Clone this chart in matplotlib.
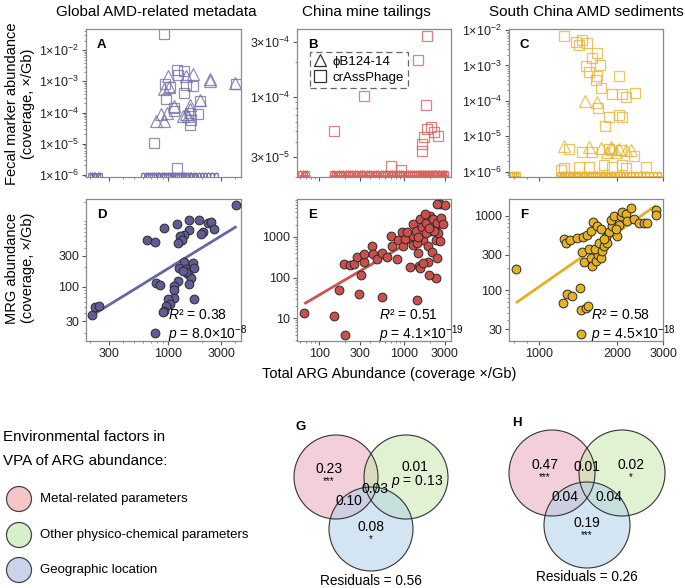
import numpy as np
import matplotlib
matplotlib.use("Agg")
import matplotlib.pyplot as plt
from matplotlib.ticker import LogLocator, NullFormatter, FixedLocator, FixedFormatter
from matplotlib.lines import Line2D
from matplotlib.patches import Circle

plt.rcParams['font.family'] = ['Liberation Sans', 'DejaVu Sans']
plt.rcParams['mathtext.fontset'] = 'custom'
plt.rcParams['mathtext.rm'] = 'Liberation Sans'
plt.rcParams['mathtext.it'] = 'Liberation Sans:italic'
plt.rcParams['mathtext.bf'] = 'Liberation Sans:bold'

# ---------------- data ----------------
col_titles = ["Global AMD-related metadata", "China mine tailings", "South China AMD sediments"]

# A: global metadata, fecal markers vs total ARG
A_sq_x = [927, 1205, 1400, 1220, 940, 1050, 960, 1385, 1450, 1670, 1140, 1140, 1560, 1850,
          1560, 1610, 1950, 4050, 748, 1205]
A_sq_y = [3.3e-2, 2.4e-3, 2.2e-3, 1.6e-3, 8e-4, 6.7e-4, 2.8e-4, 4.3e-4, 7.4e-4, 7e-4,
          1.4e-4, 1.1e-4, 1e-4, 9e-5, 4e-5, 5.9e-5, 2.3e-4, 8e-4, 1.07e-5, 1.7e-6]
A_tri_x = [780, 927, 865, 980, 927, 995, 1027, 1125, 1450, 1670, 1590, 1560, 1500, 1940,
           2400, 2400, 3950, 1450, 1355]
A_tri_y = [5.2e-5, 5.2e-5, 8.7e-5, 1e-4, 5.5e-4, 1.5e-3, 6.7e-4, 1.6e-4, 1.5e-3, 1.7e-3,
           1.7e-4, 1.25e-4, 7.6e-5, 2.6e-4, 1.2e-3, 1e-3, 8.6e-4, 9e-5, 7.6e-5]
A_zero_x = [200, 208, 216, 224, 236, 248, 600, 630, 660, 690, 720, 750, 780, 810, 840, 880,
            920, 960, 1000, 1040, 1080, 1120, 1160, 1200, 1250, 1300, 1350, 1400, 1450, 1500,
            1560, 1620, 1700, 1800, 1900, 2000, 2150, 2300, 2500, 2700]
A_zero_y = 1e-6

# B: China mine tailings
B_sq_x = [1832, 1459, 337, 150, 1783, 2040, 1862, 2230, 2506, 1703, 1600, 1612, 693, 914]
B_sq_y = [3.38e-4, 2.08e-4, 1.01e-4, 5.0e-5, 8.4e-5, 5.5e-5, 5.2e-5, 4.95e-5, 4.6e-5,
          4.5e-5, 3.9e-5, 3.4e-5, 2.5e-5, 2.3e-5]
B_zero_x = [60, 64, 68, 72, 140, 150, 160, 170, 180, 192, 205, 218, 232, 246, 262, 280, 298,
            318, 340, 362, 385, 410, 437, 465, 495, 527, 560, 596, 634, 675, 718, 764, 812,
            864, 918, 976, 1038, 1100, 1170, 1240, 1310, 1380, 1450, 1520, 1590, 1660, 1730,
            1800, 1880, 1960, 2040, 2120, 2200, 2290, 2380, 2480, 2580, 2700, 2820, 2950, 3100]
B_zero_y = 2.15e-5

# C: South China AMD sediments
C_sq_x = [1248, 1383, 1425, 1468, 1534, 1676, 1604, 1711, 1512, 1556, 1676, 1652, 1727, 2031,
          1914, 2093, 2155, 2339, 1690, 1858, 2031, 2080, 1795, 1304, 1468, 1604, 1858, 2060,
          2318, 1248, 1425, 1556, 1778, 1914, 2093, 2155, 2570, 1212]
C_sq_y = [6.8e-3, 4.7e-3, 3.8e-3, 5.2e-3, 4.4e-3, 2.2e-3, 1.58e-3, 1.03e-3, 9.6e-4, 6.6e-4,
          5e-4, 3.9e-4, 2.25e-4, 5e-4, 1.6e-4, 1.6e-4, 1.25e-4, 1.7e-4, 6.4e-5, 3.4e-5, 4e-5,
          3.6e-5, 1.95e-5, 4.3e-6, 3.5e-6, 3.6e-6, 4.3e-6, 4.1e-6, 2.76e-6, 1.3e-6, 1.37e-6,
          1.37e-6, 1.5e-6, 1.37e-6, 1.5e-6, 1.25e-6, 1.37e-6, 1.15e-6]
C_tri_x = [1503, 1667, 1248, 1556, 1727, 1888, 1914, 2031, 2155, 2253, 1972, 1832]
C_tri_y = [1e-4, 9.5e-5, 5.2e-6, 5e-6, 4.7e-6, 5e-6, 4.3e-6, 4.3e-6, 4e-6, 4e-6, 3.6e-6, 3.6e-6]
C_zero_x = [785, 800, 815, 832, 1195, 1220, 1250, 1280, 1310, 1340, 1370, 1400, 1430, 1460,
            1490, 1520, 1550, 1580, 1610, 1640, 1670, 1700, 1740, 1780, 1820, 1860, 1900,
            1950, 2000, 2050, 2100, 2160, 2220, 2290, 2360, 2440, 2520, 2610, 2700, 2800, 2890]
C_zero_y = 8.5e-7

# D: MRG vs total ARG, global
D_x = [4050, 211, 224, 243, 643, 764, 927, 1205, 1556, 1914, 2280, 2440, 2580, 2050, 1955,
       1556, 1385, 1290, 1335, 1220, 785, 853, 1385, 1265, 1450, 1668, 1700, 1500, 1610, 1556,
       1450, 1355, 1220, 1140, 1125, 1140, 995, 1050, 960, 927, 895, 1725, 764]
D_y = [1780, 37, 50, 52, 525, 488, 795, 910, 1035, 1065, 944, 980, 768, 680, 650, 740, 630,
       590, 525, 470, 117, 107, 238, 195, 185, 230, 195, 156, 139, 110, 170, 175, 123, 104, 90,
       69, 66, 55, 51, 43, 41, 66, 20]
D_fit = (1.05, -0.87)          # slope, intercept in log10-log10 space
D_fit_range = (211, 4100)
D_stats = ("0.38", "8.0", "-8")

# E: MRG vs total ARG, China mine tailings
E_x = [67, 151, 203, 171, 297, 552, 1397, 308, 198, 231, 260, 281, 340, 337, 415, 434, 475,
       548, 621, 711, 698, 828, 851, 933, 973, 1019, 1167, 1253, 1275, 1372, 1459, 1475, 1528,
       1599, 1671, 1797, 1911, 1880, 1995, 2055, 2094, 2188, 2290, 2355, 2400, 2506, 2624,
       2672, 2820, 2400, 2355, 1963, 2624, 3000, 2421, 1528, 1671, 1275, 1081, 1800, 1400,
       1460, 2230, 1750, 1963]
E_y = [13.6, 11.5, 3.9, 51, 39, 33, 28.6, 115, 218, 204, 217, 330, 245, 382, 590, 377, 288,
       399, 330, 590, 1035, 283, 824, 1330, 605, 890, 178, 1035, 2030, 1380, 414, 195, 2700,
       1770, 857, 2230, 590, 243, 3260, 1380, 437, 2700, 1670, 857, 2230, 1260, 775, 2960,
       2030, 300, 95.6, 115, 6350, 6000, 6350, 170, 225, 643, 1330, 1240, 700, 1000, 1400,
       3580, 1670]
E_fit = (1.226, -0.878)
E_fit_range = (67, 2500)
E_stats = ("0.51", "4.1", "-19")

# F: MRG vs total ARG, South China AMD sediments
F_x = [814, 1230, 1275, 1343, 1438, 1443, 1512, 1540, 1455, 1248, 1267, 1313, 1396, 1480,
       1534, 1614, 1581, 1676, 1727, 1468, 1490, 1556, 1581, 1604, 1652, 1690, 1641, 1701,
       1727, 1751, 1778, 1803, 1830, 1858, 1913, 1888, 1943, 2000, 2031, 2060, 2093, 2155,
       2187, 2253, 2318, 2425, 2535, 2612, 2811, 2820, 1778, 1972]
F_y = [196, 67, 90, 84, 107, 55, 58, 62, 26.4, 486, 437, 475, 497, 513, 550, 831, 630, 720,
       662, 328, 240, 357, 276, 212, 248, 295, 357, 437, 276, 340, 394, 513, 437, 598, 720,
       883, 1000, 537, 750, 1000, 1132, 1054, 857, 1256, 920, 813, 813, 789, 1204, 1021, 490,
       662]
F_fit = (2.42, -5.21)
F_fit_range = (814, 2825)
F_stats = ("0.58", "4.5", "-18")

# VPA (variance partitioning) values
venn_G = {"metal": "0.23", "metal_sig": "***", "other": "0.01", "other_sig": "$p$ = 0.13",
          "geo": "0.08", "geo_sig": "*", "mo": "", "mg": "0.10", "og": "", "all": "0.03",
          "resid": "0.56"}
venn_H = {"metal": "0.47", "metal_sig": "***", "other": "0.02", "other_sig": "*",
          "geo": "0.19", "geo_sig": "***", "mo": "0.01", "mg": "0.04", "og": "0.04", "all": "",
          "resid": "0.26"}
factor_names = ["Metal-related parameters", "Other physico-chemical parameters",
                "Geographic location"]
factor_colors = ["#f4c6c8", "#d8efcb", "#c9d3ea"]

# ---------------- styling ----------------
top_colors = ["#7673a8", "#d9625e", "#e6b43a"]
fill_colors = ["#5f5c96", "#c9504b", "#e5b225"]
line_colors = ["#6866a2", "#cf524e", "#e5b020"]
SPINE = "#8a8a8a"

W, H = 685, 588
fig = plt.figure(figsize=(W / 100, H / 100), dpi=100)


def box(x0, y0, x1, y1):
    return [x0 / W, 1 - y1 / H, (x1 - x0) / W, (y1 - y0) / H]


cols_px = [(86, 241), (297, 451), (509, 663)]
title_cx = [156, 366, 586]
top_px = (29, 177)
bot_px = (199, 341)

xlims = [(185, 4500), (55, 3530), (765, 3000)]
xticks = [[300, 1000, 3000], [100, 300, 1000, 3000], [1000, 2000, 3000]]
ylims_top = [(8.5e-7, 4.8e-2), (2.0e-5, 3.9e-4), (7.1e-7, 1.07e-2)]
yticks_top = [[1e-6, 1e-5, 1e-4, 1e-3, 1e-2], [3e-5, 1e-4, 3e-4], [1e-6, 1e-5, 1e-4, 1e-3, 1e-2]]
ylabels_top = [["1×10$^{-6}$", "1×10$^{-5}$", "1×10$^{-4}$", "1×10$^{-3}$", "1×10$^{-2}$"],
               ["3×10$^{-5}$", "1×10$^{-4}$", "3×10$^{-4}$"],
               ["1×10$^{-6}$", "1×10$^{-5}$", "1×10$^{-4}$", "1×10$^{-3}$", "1×10$^{-2}$"]]
ylims_bot = [(15, 2200), (2.8, 8500), (21, 1680)]
yticks_bot = [[30, 100, 300], [10, 100, 1000], [30, 100, 300, 1000]]


def style(ax, xlim, xt, show_xlabels, ylim, yt, ytl):
    ax.set_xscale('log')
    ax.set_yscale('log')
    ax.set_xlim(*xlim)
    ax.set_ylim(*ylim)
    ax.xaxis.set_major_locator(FixedLocator(xt))
    ax.xaxis.set_major_formatter(FixedFormatter([str(v) for v in xt] if show_xlabels else [""] * len(xt)))
    ax.xaxis.set_minor_locator(LogLocator(base=10, subs=np.arange(2, 10), numticks=30))
    ax.xaxis.set_minor_formatter(NullFormatter())
    ax.yaxis.set_major_locator(FixedLocator(yt))
    ax.yaxis.set_major_formatter(FixedFormatter(ytl))
    ax.yaxis.set_minor_locator(LogLocator(base=10, subs=np.arange(1, 10), numticks=30))
    ax.yaxis.set_minor_formatter(NullFormatter())
    for s in ax.spines.values():
        s.set_color(SPINE)
        s.set_linewidth(0.9)
    ax.tick_params(which='major', direction='out', length=3, width=0.8, color='#555555',
                   labelsize=9, labelcolor='#222222', pad=2)
    ax.tick_params(which='minor', direction='out', length=1.6, width=0.6, color='#777777')


letters_top = ["A", "B", "C"]
letters_bot = ["D", "E", "F"]

top_sq = [(A_sq_x, A_sq_y), (B_sq_x, B_sq_y), (C_sq_x, C_sq_y)]
top_tri = [(A_tri_x, A_tri_y), ([], []), (C_tri_x, C_tri_y)]
top_zero = [(A_zero_x, A_zero_y), (B_zero_x, B_zero_y), (C_zero_x, C_zero_y)]
bot_pts = [(D_x, D_y), (E_x, E_y), (F_x, F_y)]
fits = [(D_fit, D_fit_range), (E_fit, E_fit_range), (F_fit, F_fit_range)]
stats = [D_stats, E_stats, F_stats]

for i in range(3):
    x0, x1 = cols_px[i]
    # top row: fecal markers
    ax = fig.add_axes(box(x0, top_px[0], x1, top_px[1]))
    style(ax, xlims[i], xticks[i], False, ylims_top[i], yticks_top[i], ylabels_top[i])
    c = top_colors[i]
    zx, zy = top_zero[i]
    ax.plot(zx, [zy] * len(zx), ls='none', marker='^', ms=4, mfc='none', mec=c, mew=0.7, alpha=0.85)
    ax.plot(zx, [zy] * len(zx), ls='none', marker='s', ms=3.2, mfc='none', mec=c, mew=0.7, alpha=0.85)
    tx, ty = top_tri[i]
    ax.plot(tx, ty, ls='none', marker='^', ms=8, mfc='none', mec=c, mew=0.9, alpha=0.8)
    sx, sy = top_sq[i]
    ax.plot(sx, sy, ls='none', marker='s', ms=7, mfc='none', mec=c, mew=0.9, alpha=0.8)
    ax.text(0.07, 0.93, letters_top[i], transform=ax.transAxes, fontsize=9.5,
            fontweight='bold', va='top', ha='left')
    fig.text(title_cx[i] / W, 1 - 12 / H, col_titles[i], ha='center', va='center', fontsize=11)
    if i == 1:
        handles = [Line2D([], [], ls='none', marker='^', ms=9, mfc='none', mec='#333333', mew=0.9),
                   Line2D([], [], ls='none', marker='s', ms=8, mfc='none', mec='#333333', mew=0.9)]
        leg = ax.legend(handles, ["ϕB124-14", "crAssPhage"], loc='upper left',
                        bbox_to_anchor=(0.04, 0.89), fontsize=9.5, handlelength=1.0,
                        handletextpad=0.4, borderpad=0.3, labelspacing=0.25,
                        fancybox=False, framealpha=1)
        leg.get_frame().set_linestyle((0, (5, 3)))
        leg.get_frame().set_edgecolor('#666666')
        leg.get_frame().set_linewidth(0.9)

    # bottom row: MRG vs total ARG
    ax = fig.add_axes(box(x0, bot_px[0], x1, bot_px[1]))
    style(ax, xlims[i], xticks[i], True, ylims_bot[i], yticks_bot[i], [str(v) for v in yticks_bot[i]])
    (m, b), (lo, hi) = fits[i]
    lx = np.array([lo, hi], dtype=float)
    ax.plot(lx, 10 ** (b + m * np.log10(lx)), color=line_colors[i], lw=2, zorder=2,
            solid_capstyle='butt')
    bx, by = bot_pts[i]
    ax.scatter(bx, by, s=40, c=fill_colors[i], edgecolors='#2a2a2a', linewidths=0.7,
               zorder=3, clip_on=False)
    r2, pm, pe = stats[i]
    ax.text(0.53, 0.18, "$R$² = " + r2, transform=ax.transAxes, fontsize=10,
            ha='left', va='center', zorder=4)
    ax.text(0.53, 0.045, "$p$ = " + pm + "×10$^{" + pe + "}$", transform=ax.transAxes,
            fontsize=10, ha='left', va='center', zorder=4)
    ax.text(0.07, 0.93, letters_bot[i], transform=ax.transAxes, fontsize=9.5,
            fontweight='bold', va='top', ha='left')

fig.text(20 / W, 1 - 104 / H, "Fecal marker abundance\n(coverage, ×/Gb)", rotation=90,
         ha='center', va='center', fontsize=10.5, linespacing=1.15)
fig.text(20 / W, 1 - 268 / H, "MRG abundance\n(coverage, ×/Gb)", rotation=90,
         ha='center', va='center', fontsize=10.5, linespacing=1.15)
fig.text(389 / W, 1 - 374 / H, "Total ARG Abundance (coverage ×/Gb)", ha='center',
         va='center', fontsize=10.5)

# ---------------- bottom section: VPA legend and Venn diagrams ----------------
axb = fig.add_axes([0, 0, 1, 1], zorder=-1)
axb.set_xlim(0, W)
axb.set_ylim(H, 0)
axb.axis('off')

axb.text(3, 437, "Environmental factors in", fontsize=10.9, va='center', ha='left')
axb.text(3, 461, "VPA of ARG abundance:", fontsize=10.9, va='center', ha='left')
for k, (name, fc) in enumerate(zip(factor_names, factor_colors)):
    cy = [499, 535, 570][k]
    axb.add_patch(Circle((19, cy), 12.5, facecolor=fc, edgecolor='#444444', lw=0.9))
    axb.text(40, cy, name, fontsize=9.5, va='center', ha='left')

venn_fill = ["#e8a3b4", "#c2e6a6", "#a9cde6"]


def draw_venn(cx, cy, r, vals, letter):
    centers = [(cx - 35, cy), (cx + 35, cy), (cx, cy + 52)]
    for (x, y), fc in zip(centers, venn_fill):
        axb.add_patch(Circle((x, y), r, facecolor=fc, edgecolor='none', alpha=0.5))
    for (x, y) in centers:
        axb.add_patch(Circle((x, y), r, facecolor='none', edgecolor='#333333', lw=0.8))
    fs = 10
    axb.text(cx - 42, cy - 8, vals["metal"], fontsize=fs, ha='center', va='center')
    axb.text(cx - 42, cy + 4, vals["metal_sig"], fontsize=7, ha='center', va='center')
    has_p = "p" in vals["other_sig"]
    axb.text(cx + 44, cy - 10 if has_p else cy - 8, vals["other"], fontsize=fs,
             ha='center', va='center')
    axb.text(cx + 46 if has_p else cx + 44, cy + 5 if has_p else cy + 4, vals["other_sig"],
             fontsize=fs if has_p else 7, ha='center', va='center')
    axb.text(cx, cy + 50, vals["geo"], fontsize=fs, ha='center', va='center')
    axb.text(cx, cy + 62, vals["geo_sig"], fontsize=7, ha='center', va='center')
    if vals["mo"]:
        axb.text(cx, cy - 6, vals["mo"], fontsize=fs, ha='center', va='center')
    if vals["mg"]:
        axb.text(cx - 22, cy + 24, vals["mg"], fontsize=fs, ha='center', va='center')
    if vals["og"]:
        axb.text(cx + 22, cy + 24, vals["og"], fontsize=fs, ha='center', va='center')
    if vals["all"]:
        axb.text(cx + 4, cy + 12, vals["all"], fontsize=fs, ha='center', va='center')
    axb.text(cx, cy + 104, "Residuals = " + vals["resid"], fontsize=9.8, ha='center', va='center')
    axb.text(cx - 75, cy - 50, letter, fontsize=9.5, fontweight='bold', ha='left', va='center')


draw_venn(371, 477, 42, venn_G, "G")
draw_venn(587, 473, 43, venn_H, "H")

fig.savefig("out.png", dpi=100)
